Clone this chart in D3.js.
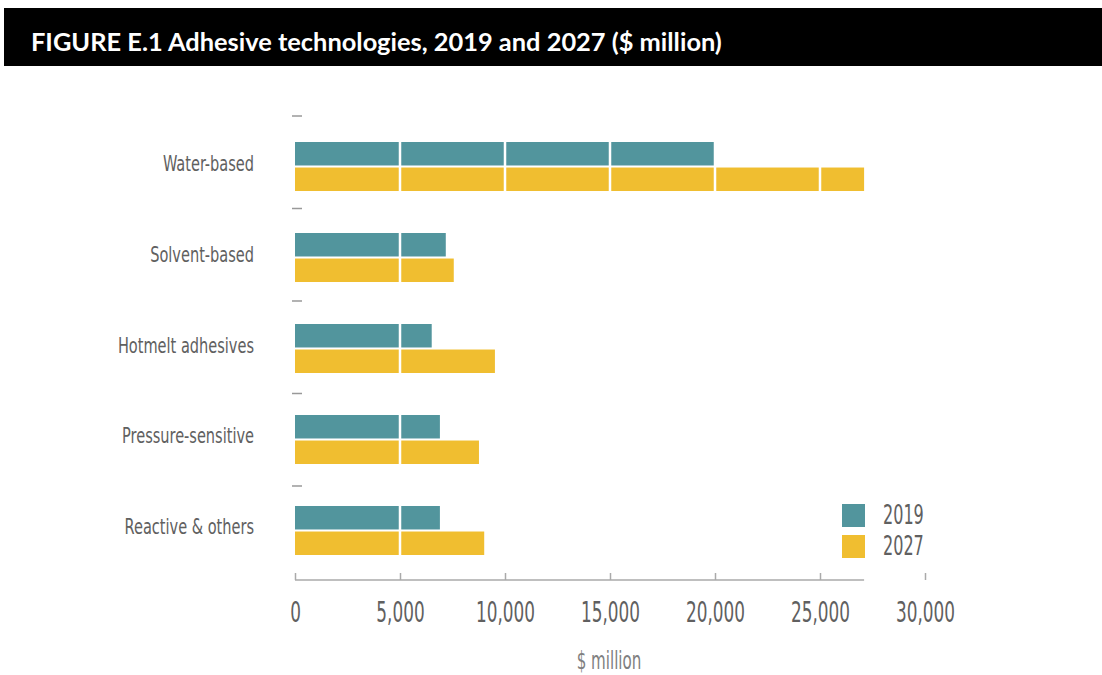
<!DOCTYPE html>
<html>
<head>
<meta charset="utf-8">
<script src="https://cdn.jsdelivr.net/npm/d3@7"></script>
<style>
  html, body { margin: 0; padding: 0; background: #fff; }
  svg { display: block; }
</style>
</head>
<body>
<svg id="chart" width="1102" height="675"></svg>
<script>
const categories = ["Water-based", "Solvent-based", "Hotmelt adhesives", "Pressure-sensitive", "Reactive & others"];
const seriesNames = ["2019", "2027"];
const values2019 = [20000, 7180, 6510, 6900, 6900];
const values2027 = [27100, 7560, 9520, 8760, 9010];
const xTicks = [0, 5000, 10000, 15000, 20000, 25000, 30000];
const gridTicks = [5000, 10000, 15000, 20000, 25000];
const titleText = "FIGURE E.1 Adhesive technologies, 2019 and 2027 ($ million)";
const axisTitle = "$ million";
const colors = ["#52959d", "#f0be30"];

const svg = d3.select("#chart");
const narrow = "'Liberation Sans Narrow', 'DejaVu Sans Condensed', 'Arial Narrow', sans-serif";

// Title bar
svg.append("rect").attr("x", 4).attr("y", 8).attr("width", 1098).attr("height", 58).attr("fill", "#000");
svg.append("text").attr("x", 31).attr("y", 51)
  .attr("fill", "#fff").attr("font-family", "Lato, 'Open Sans', sans-serif")
  .attr("font-weight", "bold").attr("font-size", 25.4).text(titleText);

const data = categories.map((c, i) => ({ cat: c, vals: [values2019[i], values2027[i]] }));

const x = d3.scaleLinear().domain([0, 30000]).range([295, 925]);
const y = d3.scaleBand().domain(categories).range([121, 576]).paddingInner(0.4615).paddingOuter(0.2308);
const ySub = d3.scaleBand().domain(seriesNames).range([0, y.bandwidth()]).paddingInner(0.08);

// Category boundary dashes
svg.append("g").selectAll("line").data(categories).join("line")
  .attr("x1", 292).attr("x2", 302)
  .attr("y1", (d, i) => y(d) - 26 + i * 1.5).attr("y2", (d, i) => y(d) - 26 + i * 1.5)
  .attr("stroke", "#999").attr("stroke-width", 1.5);

// Bars
const groups = svg.append("g").selectAll("g").data(data).join("g")
  .attr("transform", d => `translate(0,${y(d.cat)})`);
groups.selectAll("rect").data(d => d.vals.map((v, j) => ({ v, s: seriesNames[j], j }))).join("rect")
  .attr("x", x(0)).attr("y", d => ySub(d.s))
  .attr("width", d => x(d.v) - x(0)).attr("height", ySub.bandwidth())
  .attr("fill", d => colors[d.j]);

// White gridlines over bars
svg.append("g").selectAll("line").data(gridTicks).join("line")
  .attr("x1", d => x(d)).attr("x2", d => x(d))
  .attr("y1", 125).attr("y2", 570)
  .attr("stroke", "#fff").attr("stroke-width", 2.5);

// Category labels
svg.append("g").selectAll("text").data(categories).join("text")
  .attr("transform", d => `translate(254,${y(d) + y.bandwidth() / 2 + 4}) scale(0.77,1)`)
  .attr("text-anchor", "end").attr("font-family", narrow).attr("font-size", 21)
  .attr("fill", "#606060").text(d => d);

// X axis
const maxVal = d3.max([...values2019, ...values2027]);
const axisY = 580;
svg.append("line").attr("x1", x(0)).attr("x2", x(maxVal)).attr("y1", axisY).attr("y2", axisY)
  .attr("stroke", "#aaa").attr("stroke-width", 1.5);
const ax = svg.append("g").attr("transform", `translate(0,${axisY})`)
  .call(d3.axisBottom(x).tickValues(xTicks).tickSize(-7)
    .tickFormat(d3.format(",")));
ax.select(".domain").remove();
ax.selectAll(".tick line").attr("stroke", "#aaa").attr("stroke-width", 1.5);
ax.selectAll(".tick text").attr("font-family", narrow).attr("font-size", 28)
  .attr("fill", "#606060").attr("transform", "scale(0.67,1)").attr("dy", "0.71em")
  .attr("y", 22);

svg.append("text").attr("transform", `translate(609,669) scale(0.7,1)`)
  .attr("text-anchor", "middle").attr("font-family", narrow).attr("font-size", 24)
  .attr("fill", "#808080").text(axisTitle);

// Legend
const legend = svg.append("g").selectAll("g").data(seriesNames).join("g")
  .attr("transform", (d, i) => `translate(842,${504 + i * 31})`);
legend.append("rect").attr("width", 23).attr("height", 23).attr("fill", (d, i) => colors[i]);
legend.append("text").attr("transform", "translate(41,20) scale(0.66,1)")
  .attr("font-family", narrow).attr("font-size", 27).attr("fill", "#606060").text(d => d);
</script>
</body>
</html>
